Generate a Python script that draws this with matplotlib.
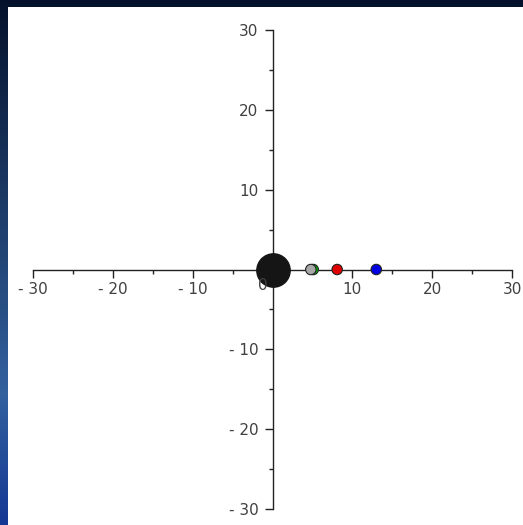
import numpy as np
import matplotlib
matplotlib.use("Agg")
import matplotlib.pyplot as plt
from matplotlib.patches import Rectangle
from matplotlib.ticker import MultipleLocator

# body positions along the x axis (all on y = 0)
sun_x = [0.0]
planet_x = [5.1, 4.8, 8.1, 13.0]
planet_colors = ["#00b000", "#a8a8a8", "#e00000", "#0000e0"]
tick_values = [-30, -20, -10, 10, 20, 30]

W, H = 523, 525
fig = plt.figure(figsize=(W / 100, H / 100), dpi=100)

# blue slide backdrop
bg = fig.add_axes([0, 0, 1, 1], zorder=-10)
yy = np.linspace(0, 1, 256)
top = np.array([0.02, 0.07, 0.17])
mid = np.array([0.20, 0.38, 0.62])
bot = np.array([0.08, 0.22, 0.58])
grad = np.empty((256, 1, 3))
for i, t in enumerate(yy):
    if t < 0.75:
        c = top + (mid - top) * (t / 0.75)
    else:
        c = mid + (bot - mid) * ((t - 0.75) / 0.25)
    grad[i, 0] = c
bg.imshow(grad, aspect="auto", extent=[0, 1, 1, 0])
bg.set_xlim(0, 1)
bg.set_ylim(1, 0)
bg.axis("off")

# white plot card
fig.patches.append(Rectangle((8 / W, 0), (W - 8) / W, (H - 7) / H,
                             transform=fig.transFigure, facecolor="white",
                             edgecolor="none", zorder=-5))

ax = fig.add_axes([33 / W, 16 / H, 479 / W, 479 / H])
ax.patch.set_alpha(0)
ax.set_xlim(-30, 30)
ax.set_ylim(-30, 30)

for side in ["top", "right"]:
    ax.spines[side].set_visible(False)
ax.spines["left"].set_position("zero")
ax.spines["bottom"].set_position("zero")
for side in ["left", "bottom"]:
    ax.spines[side].set_color("#222222")
    ax.spines[side].set_linewidth(1.0)

ax.xaxis.set_minor_locator(MultipleLocator(5))
ax.yaxis.set_minor_locator(MultipleLocator(5))
ax.set_xticks(tick_values)
ax.set_yticks(tick_values)
ax.set_xticklabels([str(v).replace("-", "- ") for v in tick_values])
ax.set_yticklabels([str(v).replace("-", "- ") for v in tick_values])
ax.tick_params(which="major", direction="out", length=6, width=1,
               color="#222222", labelsize=11, labelcolor="#404040", pad=3)
ax.tick_params(which="minor", direction="out", length=3, width=1,
               color="#222222")
ax.tick_params(axis="y", pad=4)

ax.scatter(sun_x, [0] * len(sun_x), s=24 ** 2, color="#151515",
           edgecolors="#151515", zorder=3, clip_on=False)
ax.scatter(planet_x, [0] * len(planet_x), s=7.5 ** 2, c=planet_colors,
           edgecolors="#222222", linewidths=0.8, zorder=4)

# origin label sits left of the y axis
ax.text(-0.6, -1.1, "0", ha="right", va="top", fontsize=11, color="#404040",
        zorder=5)

fig.savefig("out.png", dpi=100)
